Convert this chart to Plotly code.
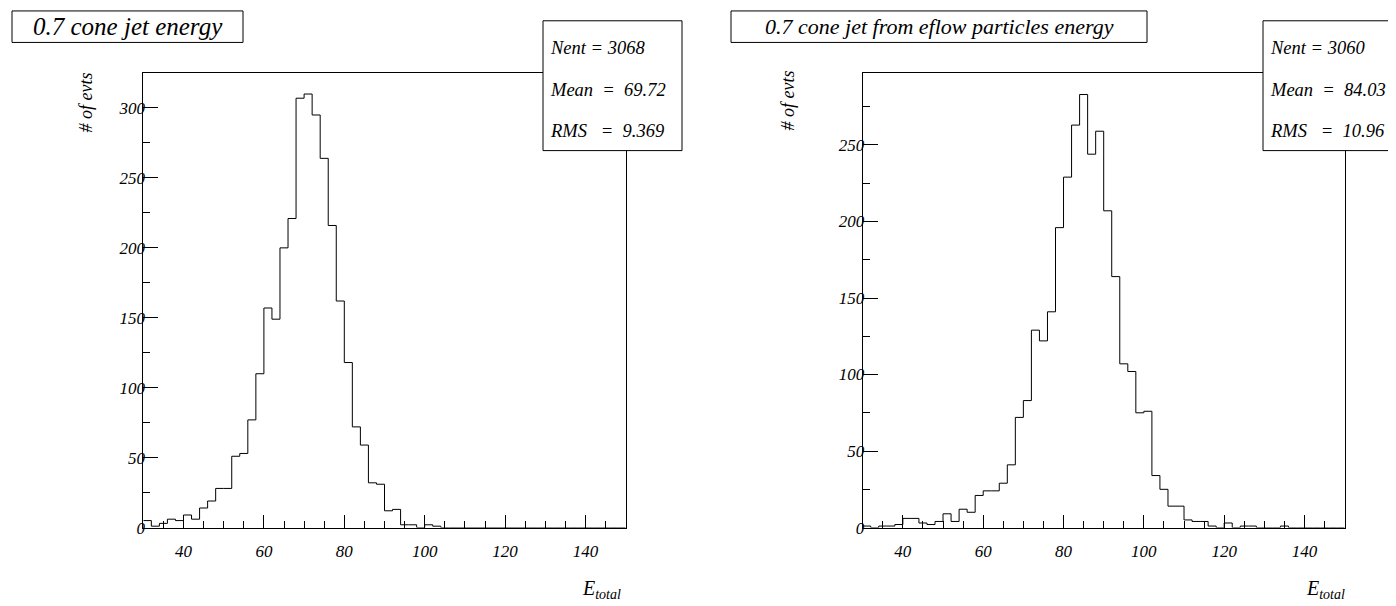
import plotly.graph_objects as go

# ---------------- data ----------------
bin_low = 30
bin_width = 2
n_bins = 60

left_counts = [5, 1, 3, 6, 5, 9, 6, 14, 19, 28,
               28, 51, 53, 77, 110, 157, 149, 200, 221, 307,
               310, 295, 264, 216, 162, 118, 72, 59, 32, 31,
               12, 13, 2, 2, 0, 2, 1, 0, 0, 0,
               0, 0, 0, 0, 0, 0, 0, 0, 0, 0,
               0, 0, 0, 0, 0, 0, 0, 0, 0, 0]

right_counts = [1, 0, 1, 1, 2, 6, 6, 3, 2, 4,
                9, 4, 12, 10, 21, 24, 24, 29, 41, 72,
                83, 129, 122, 141, 196, 229, 263, 283, 244, 259,
                207, 164, 107, 102, 75, 76, 34, 25, 14, 14,
                5, 4, 4, 1, 0, 3, 0, 1, 1, 0,
                0, 0, 1, 0, 0, 0, 0, 0, 0, 0]

left_title = "0.7 cone jet energy"
right_title = "0.7 cone jet from eflow particles energy"
left_stats = ["Nent = 3068", "Mean  =  69.72", "RMS   =  9.369"]
right_stats = ["Nent = 3060", "Mean  =  84.03", "RMS   =  10.96"]
y_title = "# of evts"
x_title = "E<sub>total</sub>"

edges = [bin_low + i * bin_width for i in range(n_bins + 1)]

# ---------------- layout helpers ----------------
W, H = 1396, 606
FONT = "Liberation Serif"


def px(x):
    return x / W


def py(y):
    return 1 - y / H


fig = go.Figure()
fig.add_trace(go.Scatter(x=edges, y=left_counts + [left_counts[-1]], mode="lines",
                         line=dict(shape="hv", color="black", width=1),
                         xaxis="x", yaxis="y", showlegend=False, hoverinfo="skip"))
fig.add_trace(go.Scatter(x=edges, y=right_counts + [right_counts[-1]], mode="lines",
                         line=dict(shape="hv", color="black", width=1),
                         xaxis="x2", yaxis="y2", showlegend=False, hoverinfo="skip"))

tickfont = dict(family=FONT, size=17, color="black", style="italic")


def xax(domain, anchor):
    return dict(domain=domain, anchor=anchor, range=[30, 150], tick0=0, dtick=20,
                ticks="inside", ticklen=13, tickwidth=1, tickcolor="black",
                minor=dict(ticks="inside", tick0=0, dtick=5, ticklen=7, tickcolor="black",
                           showgrid=False),
                showline=True, mirror=True, linecolor="black", linewidth=1,
                showgrid=False, zeroline=False, tickfont=tickfont,
                ticklabelstandoff=8)


def yax(domain, anchor, top):
    return dict(domain=domain, anchor=anchor, range=[0, top], tick0=0, dtick=50,
                ticks="inside", ticklen=15, tickwidth=1, tickcolor="black",
                minor=dict(ticks="inside", tick0=0, dtick=25, ticklen=7, tickcolor="black",
                           showgrid=False),
                showline=True, mirror=True, linecolor="black", linewidth=1,
                showgrid=False, zeroline=False, tickfont=tickfont,
                ticklabelstandoff=-6)


ydom = [py(528.3), py(65.7)]
fig.update_layout(
    width=W, height=H, margin=dict(l=0, r=0, t=0, b=0),
    paper_bgcolor="white", plot_bgcolor="white",
    font=dict(family=FONT, color="black", style="italic"),
    xaxis=xax([px(135.3), px(617.7)], "y"),
    yaxis=yax(ydom, "x", 325.3),
    xaxis2=xax([px(854.7), px(1336.7)], "y2"),
    yaxis2=yax(ydom, "x2", 297.3),
)

shapes = []
annotations = []


def box(x0, y0, x1, y1):
    shapes.append(dict(type="rect", xref="paper", yref="paper",
                       x0=px(x0), x1=px(x1), y0=py(y1), y1=py(y0),
                       line=dict(color="black", width=1), fillcolor="white", layer="above"))


def text(t, x, y, size, xanchor="left", yanchor="middle", angle=0):
    annotations.append(dict(text=t, x=px(x), y=py(y), xref="paper", yref="paper",
                            xanchor=xanchor, yanchor=yanchor, showarrow=False,
                            textangle=angle,
                            font=dict(family=FONT, size=size, color="black", style="italic")))


# titles
box(4, 3, 235, 35)
text(left_title, 119.5, 19, 25, xanchor="center")
box(723, 3, 1139, 35)
text(right_title, 931, 19, 22, xanchor="center")

# stats boxes
for (bx0, bx1, lines) in [(535, 674, left_stats), (1255, 1394, right_stats)]:
    box(bx0, 13, bx1, 145)
    for t, yy in zip(lines, [41, 83, 125]):
        text(t.replace(" ", "\u00a0"), bx0 + 5, yy, 18.5)

# axis titles
text(y_title, 78, 96, 18, xanchor="center", angle=-90)
text(y_title, 780, 94, 18, xanchor="center", angle=-90)
text(x_title, 615, 591, 20, xanchor="right")
text(x_title, 1339, 591, 20, xanchor="right")

fig.update_layout(shapes=shapes, annotations=annotations)
fig.write_html("out.html")
